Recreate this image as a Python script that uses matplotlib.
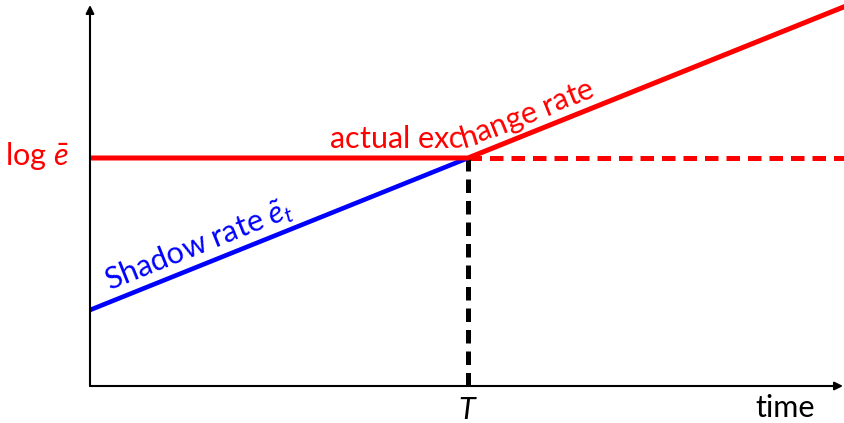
import numpy as np
import matplotlib
matplotlib.use("Agg")
import matplotlib.pyplot as plt
from matplotlib import font_manager
from matplotlib.font_manager import FontProperties
from matplotlib.transforms import IdentityTransform
from matplotlib.ft2font import FT2Font

try:
    from matplotlib.ft2font import LoadFlags
    NO_HINT = LoadFlags.NO_HINTING
except ImportError:
    from matplotlib.ft2font import LOAD_NO_HINTING as NO_HINT

plt.rcParams["font.family"] = ["Lato", "DejaVu Sans"]
plt.rcParams["mathtext.fontset"] = "custom"
plt.rcParams["mathtext.rm"] = "Lato"
plt.rcParams["mathtext.it"] = "Lato:italic"

# ---- model values -------------------------------------------------------
T = 1.0                      # time the peg is abandoned
log_ebar = 1.0               # pegged (log) exchange rate
shadow_t = [0.0, T]          # shadow rate path
shadow_v = [1 / 3, log_ebar]
actual_t = [0.0, T, 2 * T]   # actual exchange rate path
actual_v = [log_ebar, log_ebar, 5 / 3]
peg_t = [T, 2 * T]           # peg level continued after T
peg_v = [log_ebar, log_ebar]

RED = "#ff0000"
BLUE = "#0000ff"
FS = 22

fig = plt.figure(figsize=(8.45, 4.23), dpi=100)
ax = fig.add_axes([90 / 845, 37 / 423, 755 / 845, 386 / 423])
ax.set_xlim(0, 755 / 378)
ax.set_ylim(0, 386 / 228)
ax.axis("off")

# axes with arrowheads
arrow = dict(arrowstyle="-|>", lw=1.5, color="black", mutation_scale=12,
             shrinkA=0, shrinkB=0)
ax.annotate("", xy=(0, 381 / 228), xytext=(0, 0), arrowprops=arrow,
            annotation_clip=False)
ax.annotate("", xy=(753 / 378, 0), xytext=(0, 0), arrowprops=arrow,
            annotation_clip=False)

lw = 3.6
ax.plot(peg_t, peg_v, color=RED, lw=lw, dashes=(2.7, 1.6),
        solid_capstyle="butt", dash_capstyle="butt", clip_on=False)
ax.plot([T, T], [0, log_ebar], color="black", lw=lw, dashes=(2.7, 1.6),
        dash_capstyle="butt", clip_on=False)
ax.plot(shadow_t, shadow_v, color=BLUE, lw=3.3, solid_capstyle="butt",
        clip_on=False)
ax.plot(actual_t, actual_v, color=RED, lw=lw, solid_capstyle="butt",
        clip_on=False)


def to_px(xs, ys):
    return ax.transData.transform(np.column_stack([xs, ys]))


def text_on_path(s, xs, ys, start_x, offset, color, size, radius=60):
    """Lay out string s character by character along a polyline."""
    pts = to_px(xs, ys)
    lines = []
    for a, b in zip(pts[:-1], pts[1:]):
        t = (b - a) / np.linalg.norm(b - a)
        n = np.array([-t[1], t[0]])
        lines.append((a + offset * n, t))
    # densely sampled offset path with rounded corners
    dense = [lines[0][0]]
    for (p1, t1), (p2, t2) in zip(lines[:-1], lines[1:]):
        A = np.array([t1, -t2]).T
        k = np.linalg.solve(A, p2 - p1)
        C = p1 + k[0] * t1
        theta = np.arccos(np.clip(np.dot(t1, t2), -1, 1))
        L = radius * np.tan(theta / 2)
        P0, P2 = C - L * t1, C + L * t2
        for u in np.linspace(0, 1, 60):
            dense.append((1 - u) ** 2 * P0 + 2 * u * (1 - u) * C + u ** 2 * P2)
    p_last, t_last = lines[-1]
    dense.append(p_last + t_last * 2000)
    verts = np.array(dense)
    seg = np.diff(verts, axis=0)
    seglen = np.linalg.norm(seg, axis=1)
    keep = seglen > 1e-9
    seg, seglen = seg[keep], seglen[keep]
    verts = np.vstack([verts[:1], verts[1:][keep]])
    cum = np.concatenate([[0], np.cumsum(seglen)])

    def point_at(d):
        i = np.searchsorted(cum, d, side="right") - 1
        i = int(np.clip(i, 0, len(seg) - 1))
        f = (d - cum[i]) / seglen[i]
        return verts[i] + f * seg[i], seg[i] / seglen[i]

    x0 = to_px([start_x], [0])[0, 0]
    d0 = x0 - verts[0, 0]

    fp = FontProperties(family="Lato", size=size)
    font = FT2Font(font_manager.findfont(fp))
    font.set_size(size, fig.dpi)
    d = d0
    for c in s:
        g = font.load_char(ord(c), flags=NO_HINT)
        adv = g.linearHoriAdvance / 65536
        pc, tc = point_at(d + adv / 2)
        ang = np.degrees(np.arctan2(tc[1], tc[0]))
        if c.strip():
            ax.text(pc[0], pc[1], c, transform=IdentityTransform(),
                    fontproperties=fp, color=color, ha="center",
                    va="baseline", rotation=ang, rotation_mode="anchor")
        d += adv


text_on_path("actual exchange rate", actual_t, actual_v, 0.635, 10, RED, FS)

# shadow-rate label along the blue line
p = to_px(shadow_t, shadow_v)
tv = (p[1] - p[0]) / np.linalg.norm(p[1] - p[0])
nv = np.array([-tv[1], tv[0]])
x_start = to_px([0.062], [0])[0, 0]
base = p[0] + tv * ((x_start - p[0][0]) / tv[0]) + 11 * nv
ax.text(base[0], base[1], r"Shadow rate $\tilde{e}_t$",
        transform=IdentityTransform(), color=BLUE, fontsize=FS,
        ha="left", va="baseline", rotation=np.degrees(np.arctan2(tv[1], tv[0])),
        rotation_mode="anchor")

# axis labels
ax.text(69, 423 - 165, r"log $\bar{e}$", transform=IdentityTransform(),
        color=RED, fontsize=FS, ha="right", va="baseline")
tx = to_px([T], [0])[0, 0]
ax.text(tx, 423 - 419, r"$T$", transform=IdentityTransform(),
        color="black", fontsize=FS, ha="center", va="baseline")
ax.text(785, 423 - 417, "time", transform=IdentityTransform(),
        color="black", fontsize=FS, ha="center", va="baseline")

fig.savefig("out.png", dpi=100)
